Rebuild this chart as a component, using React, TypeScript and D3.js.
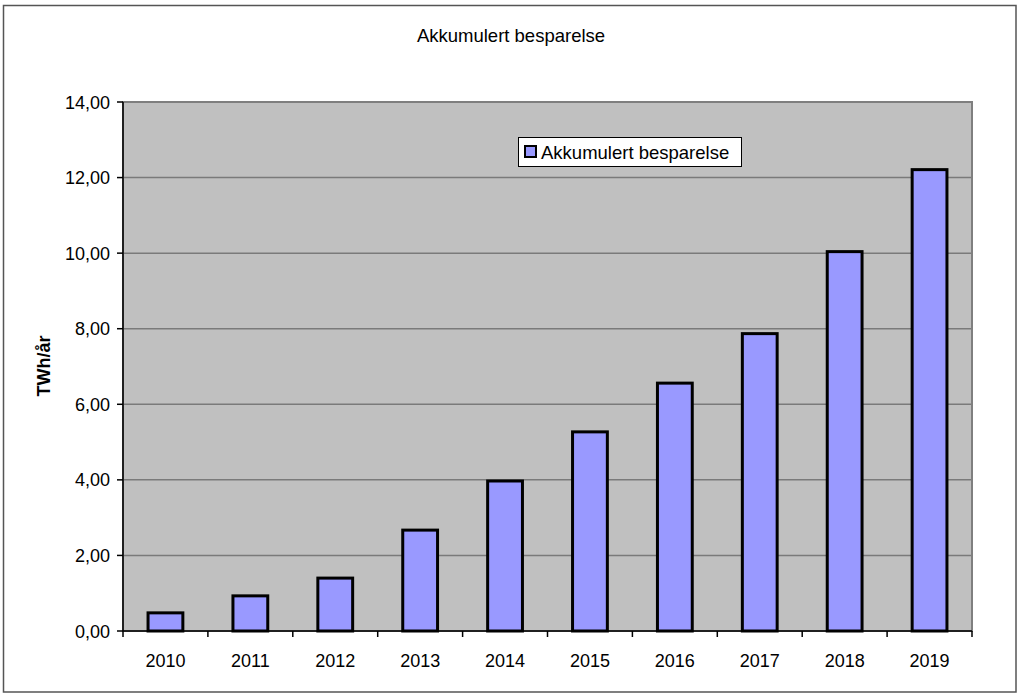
import React from "react";
import * as d3 from "d3";

const years = ["2010","2011","2012","2013","2014","2015","2016","2017","2018","2019"];
const values = [0.48, 0.93, 1.40, 2.67, 3.97, 5.27, 6.56, 7.87, 10.04, 12.21];
const yTicks = [0, 2, 4, 6, 8, 10, 12, 14];
const title = "Akkumulert besparelse";
const seriesName = "Akkumulert besparelse";
const yLabel = "TWh/år";

export default function App() {
  const W = 1024, H = 698;
  const left = 123, right = 972, top = 102, bottom = 631;
  const x = d3.scaleBand<string>().domain(years).range([left, right]).paddingInner(0.59).paddingOuter(0.295);
  const xb = d3.scaleBand<string>().domain(years).range([left, right]);
  const y = d3.scaleLinear().domain([0, 14]).range([bottom, top]);
  const fmt = (v: number) => v.toFixed(2).replace(".", ",");
  const font = "Liberation Sans, Arial, sans-serif";
  return (
    <svg width={W} height={H} style={{ position: "absolute", left: 0, top: 0, fontFamily: font }}>
      <rect x={0} y={0} width={W} height={H} fill="#fff" />
      <rect x={3.5} y={5.5} width={1012.5} height={686.5} fill="#fff" stroke="#555" strokeWidth={1.5} />
      <text x={511} y={42} textAnchor="middle" fontSize={18.5} fill="#000">{title}</text>
      <rect x={left} y={top} width={right - left} height={bottom - top} fill="#c0c0c0" />
      {yTicks.filter(t => t > 0 && t < 14).map(t => (
        <line key={t} x1={left} x2={right} y1={y(t)} y2={y(t)} stroke="#7a7a7a" strokeWidth={1.5} />
      ))}
      <rect x={left} y={top} width={right - left} height={bottom - top} fill="none" stroke="#7f7f7f" strokeWidth={2} />
      {years.map((yr, i) => (
        <rect key={yr} x={x(yr)!} y={y(values[i])} width={x.bandwidth()} height={bottom - y(values[i])}
          fill="#9999ff" stroke="#000" strokeWidth={3} />
      ))}
      <line x1={left} x2={left} y1={top} y2={bottom} stroke="#000" strokeWidth={1.5} />
      <line x1={left} x2={right} y1={bottom} y2={bottom} stroke="#000" strokeWidth={1.5} />
      {yTicks.map(t => (
        <g key={t}>
          <line x1={left - 6} x2={left} y1={y(t)} y2={y(t)} stroke="#000" strokeWidth={1.5} />
          <text x={110} y={y(t) + 6.5} textAnchor="end" fontSize={18} fill="#000">{fmt(t)}</text>
        </g>
      ))}
      {[...years.map(yr => xb(yr)!), right].map((px, i) => (
        <line key={i} x1={px} x2={px} y1={bottom} y2={bottom + 6} stroke="#000" strokeWidth={1.5} />
      ))}
      {years.map(yr => (
        <text key={yr} x={xb(yr)! + xb.bandwidth() / 2} y={667} textAnchor="middle" fontSize={18} fill="#000">{yr}</text>
      ))}
      <text transform={`translate(50,366) rotate(-90)`} textAnchor="middle" fontSize={18} fontWeight="bold" fill="#000">{yLabel}</text>
      <rect x={518.5} y={137.5} width={223} height={29} fill="#fff" stroke="#000" strokeWidth={1} />
      <rect x={525} y={146} width={11} height={11} fill="#9999ff" stroke="#000" strokeWidth={2} />
      <text x={541} y={158.5} fontSize={18.5} fill="#000">{seriesName}</text>
    </svg>
  );
}
